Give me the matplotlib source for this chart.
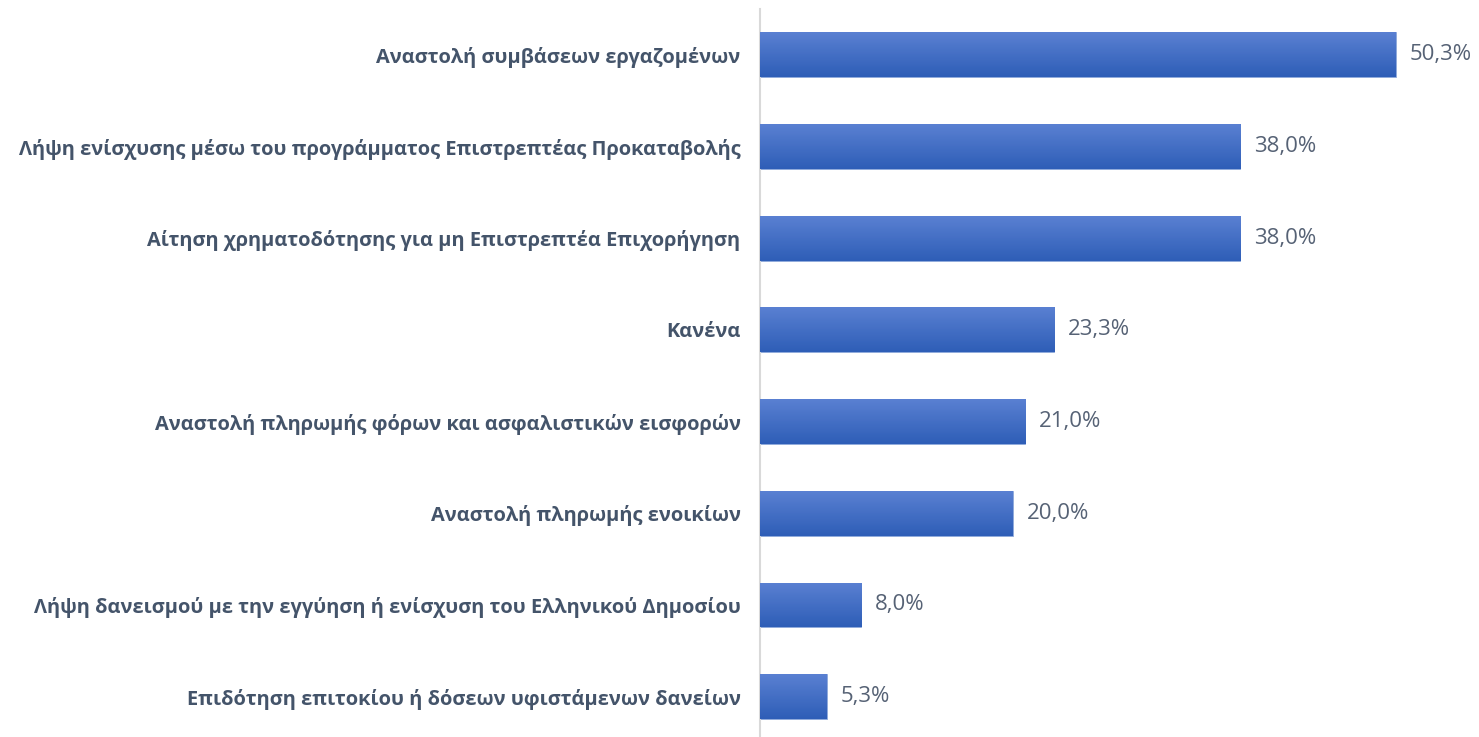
import numpy as np
import matplotlib.pyplot as plt
from matplotlib.colors import LinearSegmentedColormap

plt.rcParams["font.family"] = ["Open Sans", "DejaVu Sans"]

# ── Data ─────────────────────────────────────────────────────────────
categories = [
    "Αναστολή συμβάσεων εργαζομένων",
    "Λήψη ενίσχυσης μέσω του προγράμματος Επιστρεπτέας Προκαταβολής",
    "Αίτηση χρηματοδότησης για μη Επιστρεπτέα Επιχορήγηση",
    "Κανένα",
    "Αναστολή πληρωμής φόρων και ασφαλιστικών εισφορών",
    "Αναστολή πληρωμής ενοικίων",
    "Λήψη δανεισμού με την εγγύηση ή ενίσχυση του Ελληνικού Δημοσίου",
    "Επιδότηση επιτοκίου ή δόσεων υφιστάμενων δανείων",
]
values = [50.3, 38.0, 38.0, 23.3, 21.0, 20.0, 8.0, 5.3]
value_labels = ["50,3%", "38,0%", "38,0%", "23,3%", "21,0%", "20,0%", "8,0%", "5,3%"]

# ── Plot ─────────────────────────────────────────────────────────────
W, H = 1479, 737
fig = plt.figure(figsize=(W / 100, H / 100), dpi=100)
ax = fig.add_axes([760 / W, 0, 1 - 760 / W, 1 - 9 / H])

y = np.arange(len(categories))
bars = ax.barh(y, values, height=0.49, color="#4472C4", edgecolor="#8EA9DB",
               linewidth=0.6, zorder=2)

# vertical gradient inside each bar
grad = LinearSegmentedColormap.from_list("g", ["#5A80D2", "#2E5EB7"])
for b in bars:
    x0, y0 = b.get_x(), b.get_y()
    im = ax.imshow(np.linspace(0, 1, 64).reshape(-1, 1), cmap=grad,
                   aspect="auto", interpolation="bilinear",
                   extent=[x0, x0 + b.get_width(), y0 + b.get_height(), y0],
                   zorder=3)
    im.set_clip_path(b)

for yi, v, lab in zip(y, values, value_labels):
    ax.text(v + 1.1, yi, lab, va="center", ha="left", fontsize=16,
            color="#566275")

ax.set_xlim(0, 56.9)
ax.set_ylim(7.44, -0.5)
ax.set_yticks(y)
ax.set_yticklabels(categories, fontsize=14.4, fontweight="bold", color="#44546A")
ax.tick_params(axis="y", length=0, pad=14)
ax.set_xticks([])
for s in ("top", "right", "bottom"):
    ax.spines[s].set_visible(False)
ax.spines["left"].set_color("#D9D9D9")
ax.spines["left"].set_linewidth(1.5)

fig.savefig("out.png", dpi=100)
